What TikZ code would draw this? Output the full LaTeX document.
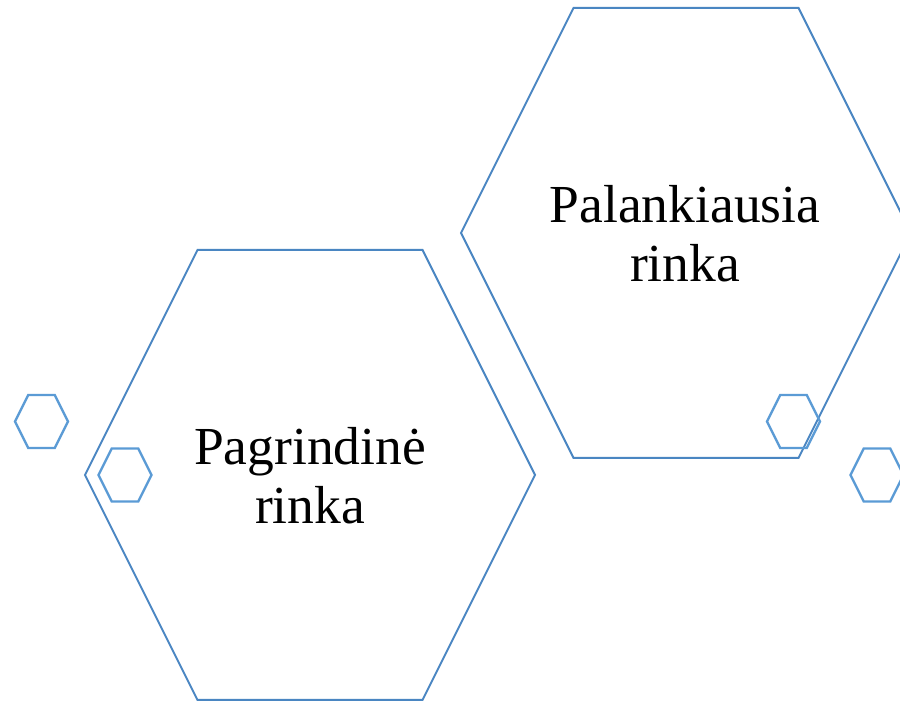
\documentclass[tikz,border=0pt]{standalone}
\usepackage{fontspec}
\setmainfont{Liberation Serif}
\usepackage{tikz}
\usetikzlibrary{calc}
\definecolor{hexblue}{HTML}{4A86C2}
\definecolor{hexlight}{HTML}{5B9BD5}
% hexagon with flat top: style, centre, half width, half height
\newcommand{\hexa}[4]{%
  \draw [#1] ($(#2)+(-#3,0)$) -- ++(0.5*#3,-#4) -- ++(#3,0) -- ++(0.5*#3,#4)
    -- ++(-0.5*#3,#4) -- ++(-#3,0) -- cycle;}

\begin{document}
\begin{tikzpicture}[
    % GLOBAL CFG
    x=1pt, y=1pt,
    % Styles
    bighex/.style={% For the two main hexagons
        draw=hexblue,
        line width=2pt,
        line join=miter,
        },
    smallhex/.style={% For the little decorations
        draw=hexlight,
        line width=2.4pt,
        line join=miter,
        },
    market/.style={% Text inside the main hexagons
        align=center,
        inner sep=0pt,
        font=\fontsize{53.5}{59}\selectfont,
        },
    ]

    \useasboundingbox (0,0) rectangle (900,701);
    \clip (0,0) rectangle (900,701);

    % Centres named hc#
    \coordinate (hc1) at (310,226);
    \coordinate (hc2) at (686,468);
    \coordinate (sc1) at (41.5,279.5);
    \coordinate (sc2) at (125,226);
    \coordinate (sc3) at (793.5,279.5);
    \coordinate (sc4) at (877,226);

    % Draw the big hexagons
    \hexa{bighex}{hc1}{225}{225}
    \hexa{bighex}{hc2}{225}{225}

    % Draw the small hexagons
    \hexa{smallhex}{sc1}{26.5}{26.5}
    \hexa{smallhex}{sc2}{26.5}{26.5}
    \hexa{smallhex}{sc3}{26.5}{26.5}
    \hexa{smallhex}{sc4}{26.5}{26.5}

    % Labels
    \node [market] (main) at ($(hc1)+(0,-1)$) {Pagrindinė\\rinka};
    \node [market] (best) at ($(hc2)+(-1,-1)$) {Palankiausia\\rinka};

\end{tikzpicture}
\end{document}
